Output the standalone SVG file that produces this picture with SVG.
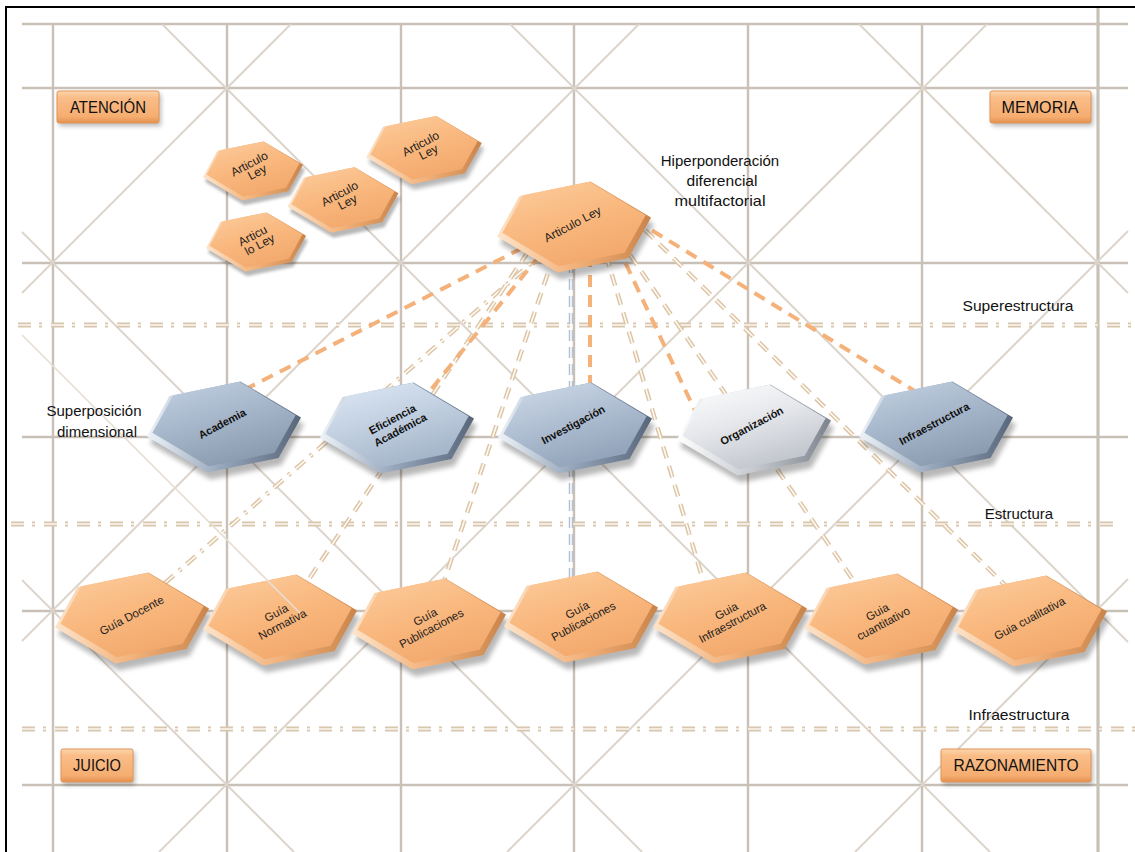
<svg xmlns="http://www.w3.org/2000/svg" width="1135" height="852" viewBox="0 0 1135 852">
<defs>
<style>
.grid line{stroke:#c9c1b8;stroke-width:2.4}
.diag line{stroke:#ddd5cb;stroke-width:2}
.lvl .o{stroke:#d8c6ae;stroke-width:5;stroke-dasharray:13 8 3 9;fill:none}
.lvl .i{stroke:#f4ebe0;stroke-width:2;stroke-dasharray:13 8 3 9;fill:none}
.c-or{stroke:#f5b17a;stroke-width:4;stroke-dasharray:12 8;fill:none}
.c-bo{stroke:#dcc4a6;stroke-width:4.5;stroke-dasharray:12 8;fill:none}
.c-bi{stroke:#fffaf3;stroke-width:1.6;stroke-dasharray:12 8;fill:none}
.c-do{stroke:#dcc4a6;stroke-width:4.5;stroke-dasharray:12 7 3 7;fill:none}
.c-di{stroke:#fffaf3;stroke-width:1.6;stroke-dasharray:12 7 3 7;fill:none}
.c-vo{stroke:#b4c1d0;stroke-width:4.5;stroke-dasharray:11 6;fill:none}
.c-vi{stroke:#f3f6fa;stroke-width:1.8;stroke-dasharray:11 6;fill:none}
.sh{fill:#000;opacity:.28}
.t{font-family:"Liberation Sans",Arial,sans-serif;fill:#111}
.lbl{font-size:15px}
.bx{font-size:17px;text-anchor:middle}
.hx{font-size:11.5px;text-anchor:middle;fill:#1c1c1c}
.hb{font-size:11px;font-weight:bold;text-anchor:middle;fill:#111}
.hs{font-size:12px;text-anchor:middle;fill:#1c1c1c}
.box{stroke:#e0955a;stroke-width:1}
</style>
<polygon id="hex" points="77,-9.5 16.5,-45.5 -54.5,-31 -77,9.5 -16.5,45.5 54.5,31"/>
<filter id="blur" x="-30%" y="-30%" width="160%" height="160%"><feGaussianBlur stdDeviation="2.5"/></filter>
<linearGradient id="oFace" x1="0" y1="0" x2="0.5" y2="1">
 <stop offset="0" stop-color="#fccd9f"/><stop offset="0.55" stop-color="#f9b87e"/><stop offset="1" stop-color="#f3a96d"/>
</linearGradient>
<linearGradient id="oSide" x1="0" y1="0" x2="1" y2="0">
 <stop offset="0" stop-color="#fde4ca"/><stop offset="0.5" stop-color="#f2b27b"/><stop offset="1" stop-color="#c9844a"/>
</linearGradient>
<linearGradient id="bFaceA" x1="0" y1="0" x2="0.5" y2="1">
 <stop offset="0" stop-color="#c3d1e2"/><stop offset="0.5" stop-color="#a8b8cc"/><stop offset="1" stop-color="#8b9bb0"/>
</linearGradient>
<linearGradient id="bFaceE" x1="0" y1="0" x2="0.5" y2="1">
 <stop offset="0" stop-color="#e0eaf6"/><stop offset="0.5" stop-color="#c3d1e2"/><stop offset="1" stop-color="#a5b5c9"/>
</linearGradient>
<linearGradient id="bFaceI" x1="0" y1="0" x2="0.5" y2="1">
 <stop offset="0" stop-color="#d0dceb"/><stop offset="0.5" stop-color="#b1c0d3"/><stop offset="1" stop-color="#92a4ba"/>
</linearGradient>
<linearGradient id="bFaceO" x1="0" y1="0" x2="0.5" y2="1">
 <stop offset="0" stop-color="#ffffff"/><stop offset="0.5" stop-color="#e6e8ec"/><stop offset="1" stop-color="#c2c6cd"/>
</linearGradient>
<linearGradient id="bSide" x1="0" y1="0" x2="1" y2="0">
 <stop offset="0" stop-color="#eef3f8"/><stop offset="0.5" stop-color="#93a3b8"/><stop offset="1" stop-color="#58667a"/>
</linearGradient>
<linearGradient id="bSideO" x1="0" y1="0" x2="1" y2="0">
 <stop offset="0" stop-color="#ffffff"/><stop offset="0.5" stop-color="#c5c9cf"/><stop offset="1" stop-color="#7d838d"/>
</linearGradient>
<linearGradient id="boxG" x1="0" y1="0" x2="0" y2="1">
 <stop offset="0" stop-color="#fdd6ad"/><stop offset="0.2" stop-color="#fabd88"/><stop offset="0.8" stop-color="#f6ad70"/><stop offset="1" stop-color="#e2914f"/>
</linearGradient>
</defs>

<rect width="1135" height="852" fill="#ffffff"/>

<!-- grid -->
<g class="grid">
<line x1="22" y1="24" x2="1128" y2="24"/>
<line x1="22" y1="88" x2="1128" y2="88"/>
<line x1="22" y1="263" x2="1128" y2="263"/>
<line x1="22" y1="437" x2="1128" y2="437"/>
<line x1="22" y1="611" x2="1128" y2="611"/>
<line x1="22" y1="785" x2="1128" y2="785"/>
<line x1="53" y1="24" x2="53" y2="852"/>
<line x1="227" y1="24" x2="227" y2="852"/>
<line x1="401" y1="24" x2="401" y2="852"/>
<line x1="574" y1="24" x2="574" y2="852"/>
<line x1="748" y1="24" x2="748" y2="852"/>
<line x1="922" y1="24" x2="922" y2="852"/>
<line x1="1098" y1="7" x2="1098" y2="852" style="stroke-width:3.2"/>
</g>
<g class="diag">
<line x1="859" y1="24" x2="1128" y2="293"/>
<line x1="510" y1="24" x2="1128" y2="642"/>
<line x1="162" y1="24" x2="990" y2="852"/>
<line x1="22" y1="232" x2="642" y2="852"/>
<line x1="22" y1="580" x2="294" y2="852"/>
<line x1="291" y1="24" x2="22" y2="293"/>
<line x1="639" y1="24" x2="22" y2="641"/>
<line x1="987" y1="24" x2="159" y2="852"/>
<line x1="1128" y1="231" x2="507" y2="852"/>
<line x1="1128" y1="579" x2="855" y2="852"/>
</g>

<!-- frame -->
<g id="frame">
<line x1="6" y1="7" x2="1135" y2="7" stroke="#000" stroke-width="2"/>
<line x1="6" y1="6" x2="6" y2="852" stroke="#000" stroke-width="2"/>
</g>

<!-- level lines -->
<g class="lvl">
<line class="o" x1="18" y1="325" x2="1135" y2="325"/><line class="i" x1="18" y1="325" x2="1135" y2="325"/>
<line class="o" x1="11" y1="524" x2="1120" y2="524"/><line class="i" x1="11" y1="524" x2="1120" y2="524"/>
<line class="o" x1="22" y1="729" x2="1135" y2="729"/><line class="i" x1="22" y1="729" x2="1135" y2="729"/>
</g>

<!-- connectors -->
<g id="connectors">
<line class="c-do" x1="545" y1="251" x2="157" y2="590"/><line class="c-di" x1="545" y1="251" x2="157" y2="590"/>
<line class="c-bo" x1="528" y1="252" x2="303" y2="588"/><line class="c-bi" x1="528" y1="252" x2="303" y2="588"/>
<line class="c-bo" x1="554" y1="255" x2="441" y2="590"/><line class="c-bi" x1="554" y1="255" x2="441" y2="590"/>
<line class="c-vo" x1="571" y1="262" x2="571" y2="590"/><line class="c-vi" x1="571" y1="262" x2="571" y2="590"/>
<line class="c-bo" x1="606" y1="255" x2="706" y2="590"/><line class="c-bi" x1="606" y1="255" x2="706" y2="590"/>
<line class="c-bo" x1="630" y1="255" x2="860" y2="590"/><line class="c-bi" x1="630" y1="255" x2="860" y2="590"/>
<line class="c-bo" x1="645" y1="230" x2="1010" y2="590"/><line class="c-bi" x1="645" y1="230" x2="1010" y2="590"/>
<line class="c-or" x1="540" y1="239" x2="240" y2="392"/>
<line class="c-or" x1="540" y1="255" x2="425" y2="397"/>
<line class="c-or" x1="590" y1="255" x2="590" y2="395"/>
<line class="c-or" x1="617" y1="245" x2="697" y2="415"/>
<line class="c-or" x1="635" y1="220" x2="918" y2="393"/>
</g>

<!-- corner boxes -->
<g id="n-atencion">
<rect x="59" y="94" width="102" height="32" class="sh" filter="url(#blur)"/>
<rect x="57" y="91" width="102" height="32" rx="2" fill="url(#boxG)" class="box"/>
<text x="108" y="113" class="t bx" textLength="76" lengthAdjust="spacingAndGlyphs">ATENCIÓN</text>
</g>
<g id="n-memoria">
<rect x="992" y="94" width="101" height="32" class="sh" filter="url(#blur)"/>
<rect x="990" y="91" width="101" height="32" rx="2" fill="url(#boxG)" class="box"/>
<text x="1040" y="113" class="t bx" textLength="77" lengthAdjust="spacingAndGlyphs">MEMORIA</text>
</g>
<g id="n-juicio">
<rect x="63" y="752" width="72" height="33" class="sh" filter="url(#blur)"/>
<rect x="61" y="749" width="72" height="33" rx="2" fill="url(#boxG)" class="box"/>
<text x="97" y="771" class="t bx" textLength="48" lengthAdjust="spacingAndGlyphs">JUICIO</text>
</g>
<g id="n-razonamiento">
<rect x="943" y="752" width="150" height="33" class="sh" filter="url(#blur)"/>
<rect x="941" y="749" width="150" height="33" rx="2" fill="url(#boxG)" class="box"/>
<text x="1016" y="771" class="t bx" textLength="125" lengthAdjust="spacingAndGlyphs">RAZONAMIENTO</text>
</g>

<!-- small Articulo Ley hexes -->
<g id="n-art-a">
<g transform="translate(253,171) scale(0.65)">
<use href="#hex" transform="translate(3,7)" class="sh" filter="url(#blur)"/>
<use href="#hex" fill="url(#oSide)"/>
<use href="#hex" transform="translate(0,-3) scale(0.93)" fill="url(#oFace)"/>
</g>
<text transform="translate(253,171) rotate(-28)" class="t hs"><tspan x="0" y="-4">Articulo</tspan><tspan x="3" y="7">Ley</tspan></text>
</g>
<g id="n-art-b">
<g transform="translate(424,150) scale(0.75)">
<use href="#hex" transform="translate(3,7)" class="sh" filter="url(#blur)"/>
<use href="#hex" fill="url(#oSide)"/>
<use href="#hex" transform="translate(0,-3) scale(0.93)" fill="url(#oFace)"/>
</g>
<text transform="translate(424,150) rotate(-28)" class="t hs"><tspan x="0" y="-3">Articulo</tspan><tspan x="3" y="8">Ley</tspan></text>
</g>
<g id="n-art-c">
<g transform="translate(343,200) scale(0.72)">
<use href="#hex" transform="translate(3,7)" class="sh" filter="url(#blur)"/>
<use href="#hex" fill="url(#oSide)"/>
<use href="#hex" transform="translate(0,-3) scale(0.93)" fill="url(#oFace)"/>
</g>
<text transform="translate(343,200) rotate(-28)" class="t hs"><tspan x="0" y="-3">Articulo</tspan><tspan x="3" y="8">Ley</tspan></text>
</g>
<g id="n-art-d">
<g transform="translate(256,242) scale(0.65)">
<use href="#hex" transform="translate(3,7)" class="sh" filter="url(#blur)"/>
<use href="#hex" fill="url(#oSide)"/>
<use href="#hex" transform="translate(0,-3) scale(0.93)" fill="url(#oFace)"/>
</g>
<text transform="translate(256,242) rotate(-28)" class="t hs"><tspan x="0" y="-3">Articu</tspan><tspan x="2" y="8">lo Ley</tspan></text>
</g>

<!-- main Articulo Ley -->
<g id="n-articulo-ley">
<g transform="translate(574,227)">
<use href="#hex" transform="translate(3,7)" class="sh" filter="url(#blur)"/>
<use href="#hex" fill="url(#oSide)"/>
<use href="#hex" transform="translate(0,-3) scale(0.93)" fill="url(#oFace)"/>
</g>
<text transform="translate(574,227) rotate(-28)" class="t hs" y="1">Articulo Ley</text>
</g>

<!-- dimension hexes -->
<g id="n-academia">
<g transform="translate(224,427)">
<use href="#hex" transform="translate(3,7)" class="sh" filter="url(#blur)"/>
<use href="#hex" fill="url(#bSide)"/>
<use href="#hex" transform="translate(0,-3) scale(0.93)" fill="url(#bFaceA)"/>
</g>
<text transform="translate(224,427) rotate(-28)" class="t hb" y="0">Academia</text>
</g>
<g id="n-eficiencia">
<g transform="translate(397,428)">
<use href="#hex" transform="translate(3,7)" class="sh" filter="url(#blur)"/>
<use href="#hex" fill="url(#bSide)"/>
<use href="#hex" transform="translate(0,-3) scale(0.93)" fill="url(#bFaceE)"/>
</g>
<text transform="translate(397,428) rotate(-28)" class="t hb"><tspan x="0" y="-6">Eficiencia</tspan><tspan x="2" y="7">Académica</tspan></text>
</g>
<g id="n-investigacion">
<g transform="translate(575,428)">
<use href="#hex" transform="translate(3,7)" class="sh" filter="url(#blur)"/>
<use href="#hex" fill="url(#bSide)"/>
<use href="#hex" transform="translate(0,-3) scale(0.93)" fill="url(#bFaceI)"/>
</g>
<text transform="translate(575,428) rotate(-28)" class="t hb" y="0">Investigación</text>
</g>
<g id="n-organizacion">
<g transform="translate(754,430)">
<use href="#hex" transform="translate(3,7)" class="sh" filter="url(#blur)"/>
<use href="#hex" fill="url(#bSideO)"/>
<use href="#hex" transform="translate(0,-3) scale(0.93)" fill="url(#bFaceO)"/>
</g>
<text transform="translate(754,430) rotate(-28)" class="t hb" y="-1">Organización</text>
</g>
<g id="n-infraestructura">
<g transform="translate(936,427)">
<use href="#hex" transform="translate(3,7)" class="sh" filter="url(#blur)"/>
<use href="#hex" fill="url(#bSide)"/>
<use href="#hex" transform="translate(0,-3) scale(0.93)" fill="url(#bFaceA)"/>
</g>
<text transform="translate(936,427) rotate(-28)" class="t hb" y="0">Infraestructura</text>
</g>

<!-- guide hexes -->
<g id="n-guia-docente">
<g transform="translate(132,618)">
<use href="#hex" transform="translate(3,7)" class="sh" filter="url(#blur)"/>
<use href="#hex" fill="url(#oSide)"/>
<use href="#hex" transform="translate(0,-3) scale(0.93)" fill="url(#oFace)"/>
</g>
<text transform="translate(133,618) rotate(-28)" class="t hx" y="1">Guía Docente</text>
</g>
<g id="n-guia-normativa">
<g transform="translate(280,620)">
<use href="#hex" transform="translate(3,7)" class="sh" filter="url(#blur)"/>
<use href="#hex" fill="url(#oSide)"/>
<use href="#hex" transform="translate(0,-3) scale(0.93)" fill="url(#oFace)"/>
</g>
<text transform="translate(280,620) rotate(-28)" class="t hx"><tspan x="0" y="-4">Guía</tspan><tspan x="0" y="9">Normativa</tspan></text>
</g>
<g id="n-guia-publicaciones-1">
<g transform="translate(429,624)">
<use href="#hex" transform="translate(3,7)" class="sh" filter="url(#blur)"/>
<use href="#hex" fill="url(#oSide)"/>
<use href="#hex" transform="translate(0,-3) scale(0.93)" fill="url(#oFace)"/>
</g>
<text transform="translate(429,624) rotate(-28)" class="t hx"><tspan x="0" y="-4">Guía</tspan><tspan x="0" y="9">Publicaciones</tspan></text>
</g>
<g id="n-guia-publicaciones-2">
<g transform="translate(581,617)">
<use href="#hex" transform="translate(3,7)" class="sh" filter="url(#blur)"/>
<use href="#hex" fill="url(#oSide)"/>
<use href="#hex" transform="translate(0,-3) scale(0.93)" fill="url(#oFace)"/>
</g>
<text transform="translate(581,617) rotate(-28)" class="t hx"><tspan x="0" y="-4">Guía</tspan><tspan x="0" y="9">Publicaciones</tspan></text>
</g>
<g id="n-guia-infraestructura">
<g transform="translate(730,618)">
<use href="#hex" transform="translate(3,7)" class="sh" filter="url(#blur)"/>
<use href="#hex" fill="url(#oSide)"/>
<use href="#hex" transform="translate(0,-3) scale(0.93)" fill="url(#oFace)"/>
</g>
<text transform="translate(730,618) rotate(-28)" class="t hx"><tspan x="0" y="-4">Guia</tspan><tspan x="0" y="9">Infraestructura</tspan></text>
</g>
<g id="n-guia-cuantitativo">
<g transform="translate(881,619)">
<use href="#hex" transform="translate(3,7)" class="sh" filter="url(#blur)"/>
<use href="#hex" fill="url(#oSide)"/>
<use href="#hex" transform="translate(0,-3) scale(0.93)" fill="url(#oFace)"/>
</g>
<text transform="translate(881,619) rotate(-28)" class="t hx"><tspan x="0" y="-4">Guia</tspan><tspan x="0" y="9">cuantitativo</tspan></text>
</g>
<g id="n-guia-cualitativa">
<g transform="translate(1030,621)">
<use href="#hex" transform="translate(3,7)" class="sh" filter="url(#blur)"/>
<use href="#hex" fill="url(#oSide)"/>
<use href="#hex" transform="translate(0,-3) scale(0.93)" fill="url(#oFace)"/>
</g>
<text transform="translate(1031,621) rotate(-28)" class="t hx" y="1">Guia cualitativa</text>
</g>

<!-- stray diagonal over Guía Normativa -->
<g class="diag"><line x1="22" y1="335" x2="300" y2="613" style="stroke:#e6ddd3;stroke-width:1.6"/></g>

<!-- free labels -->
<g id="labels">
<text class="t lbl" x="720" y="166" text-anchor="middle">Hiperponderación</text>
<text class="t lbl" x="722" y="186" text-anchor="middle" textLength="71" lengthAdjust="spacingAndGlyphs">diferencial</text>
<text class="t lbl" x="720" y="206" text-anchor="middle" textLength="91" lengthAdjust="spacingAndGlyphs">multifactorial</text>
<text class="t lbl" x="94" y="416" text-anchor="middle">Superposición</text>
<text class="t lbl" x="97" y="437" text-anchor="middle">dimensional</text>
<text class="t lbl" x="1018" y="311" text-anchor="middle" textLength="111" lengthAdjust="spacingAndGlyphs">Superestructura</text>
<text class="t lbl" x="1019" y="519" text-anchor="middle">Estructura</text>
<text class="t lbl" x="1019" y="720" text-anchor="middle" textLength="101" lengthAdjust="spacingAndGlyphs">Infraestructura</text>
</g>
</svg>
